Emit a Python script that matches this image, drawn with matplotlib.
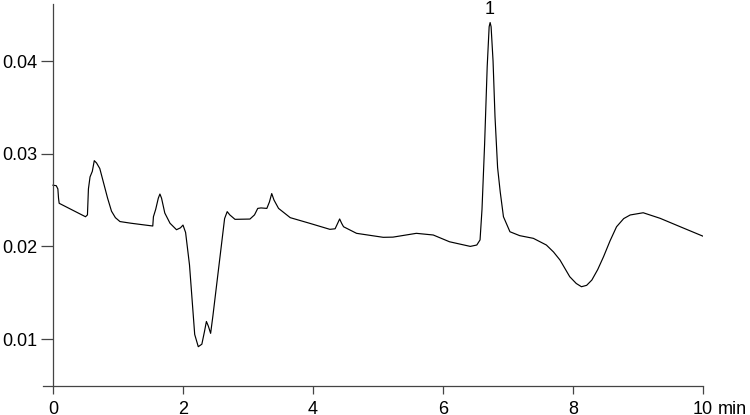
import matplotlib
matplotlib.use("Agg")
import matplotlib.pyplot as plt

# Chromatogram trace (time in min, absorbance)
time_min = [0.00, 0.05, 0.075, 0.085, 0.095, 0.50, 0.53, 0.545, 0.57, 0.605,
            0.635, 0.67, 0.72, 0.78, 0.84, 0.90, 0.96, 1.03, 1.20, 1.40,
            1.535, 1.545, 1.58, 1.62, 1.645, 1.67, 1.72, 1.80, 1.90, 1.96,
            2.00, 2.04, 2.10, 2.18, 2.235, 2.29, 2.33, 2.36, 2.39, 2.425,
            2.46, 2.52, 2.58, 2.64, 2.68, 2.72, 2.80, 3.03, 3.10, 3.15,
            3.20, 3.29, 3.33, 3.365, 3.40, 3.47, 3.65, 3.95, 4.26, 4.34,
            4.38, 4.41, 4.44, 4.47, 4.67, 5.08, 5.23, 5.59, 5.85, 6.10,
            6.42, 6.52, 6.57, 6.60, 6.64, 6.68, 6.71, 6.725, 6.74, 6.77,
            6.80, 6.84, 6.88, 6.93, 7.03, 7.18, 7.39, 7.59, 7.70, 7.80, 7.95,
            8.05, 8.13, 8.21, 8.29, 8.38, 8.47, 8.57, 8.67, 8.78, 8.88,
            9.08, 9.34, 9.65, 10.0]
signal = [0.0266, 0.02655, 0.0262, 0.0252, 0.02465, 0.0232, 0.0234, 0.0262, 0.0275, 0.0281,
          0.02925, 0.0290, 0.0284, 0.0268, 0.0252, 0.0238, 0.0231, 0.02268, 0.0225, 0.02232,
          0.0222, 0.0232, 0.0240, 0.0252, 0.02565, 0.0252, 0.0236, 0.0225, 0.0218, 0.0220,
          0.0223, 0.0215, 0.0180, 0.0105, 0.00918, 0.00945, 0.0108, 0.0119, 0.0114, 0.01062,
          0.0125, 0.0160, 0.0195, 0.0230, 0.02375, 0.0234, 0.02292, 0.02295, 0.0234, 0.0241,
          0.02415, 0.0241, 0.0248, 0.0257, 0.0250, 0.0241, 0.0231, 0.02249, 0.02184, 0.0219,
          0.0225, 0.02296, 0.0225, 0.02212, 0.02141, 0.02098, 0.0210, 0.02141, 0.02123, 0.0205,
          0.0200, 0.02015, 0.0207, 0.0240, 0.0310, 0.0394, 0.0437, 0.04415, 0.0437, 0.0400,
          0.0340, 0.0285, 0.0259, 0.0232, 0.02158, 0.02116, 0.02087, 0.02015, 0.0194, 0.01853, 0.01673,
          0.0160, 0.01565, 0.0158, 0.01637, 0.0175, 0.01889, 0.0206, 0.02212, 0.0230, 0.02339,
          0.02363, 0.02303, 0.02212, 0.0211]

x_ticks = [0, 2, 4, 6, 8, 10]
x_tick_labels = ["0", "2", "4", "6", "8", "10"]
y_ticks = [0.01, 0.02, 0.03, 0.04]
y_tick_labels = ["0.01", "0.02", "0.03", "0.04"]
x_unit = "min"
peak_label = "1"
peak_time = 6.725
peak_value = 0.04415

plt.rcParams['font.family'] = ['Liberation Sans', 'DejaVu Sans']
fs = 13

fig = plt.figure(figsize=(7.5, 4.15), dpi=100)
ax = fig.add_axes([43 / 750, (415 - 386) / 415, 660 / 750, 382 / 415])

ax.plot(time_min, signal, color="black", lw=0.85)

ymin = 0.00494
ax.set_xlim(-0.1538, 10.0)
ax.set_ylim(ymin, 0.04615)

axis_col = "#444444"
for s in ["top", "right"]:
    ax.spines[s].set_visible(False)
ax.spines["left"].set_position(("data", 0))
ax.spines["left"].set_color(axis_col)
ax.spines["bottom"].set_color(axis_col)
ax.spines["left"].set_linewidth(0.9)
ax.spines["bottom"].set_linewidth(0.9)

ax.set_xticks(x_ticks)
ax.set_xticklabels(x_tick_labels)
ax.set_yticks(y_ticks)
ax.set_yticklabels(y_tick_labels)
ax.tick_params(axis="x", direction="out", length=6, width=0.9, color=axis_col,
               labelsize=fs, pad=4.5, labelcolor="black")
ax.tick_params(axis="y", direction="out", length=9, width=0.9, color=axis_col,
               labelsize=fs, pad=2, labelcolor="black")

ax.annotate(x_unit, xy=(10, ymin), xycoords="data", xytext=(10.5, -10.5),
            textcoords="offset points", ha="left", va="top", fontsize=fs,
            annotation_clip=False)

ax.annotate(peak_label, xy=(peak_time, peak_value), xycoords="data",
            xytext=(0, 3), textcoords="offset points", ha="center",
            va="bottom", fontsize=fs, annotation_clip=False)

fig.savefig("out.png", dpi=100)
